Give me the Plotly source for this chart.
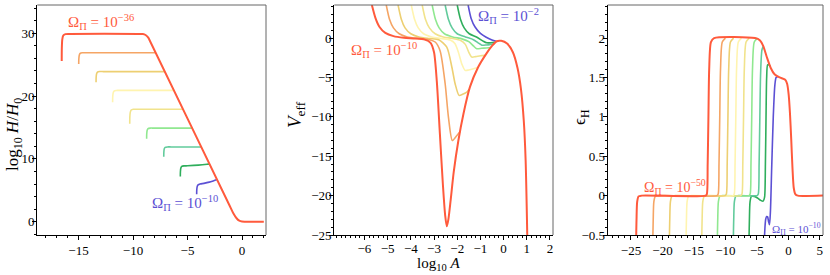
import plotly.graph_objects as go

W, H = 830, 275

# ---------------- colours (one per Omega_Pi value, red = smallest) ----------------
colors = ["#FF5A3C", "#F5A565", "#EDCF72", "#FFF4B0", "#F1E38C",
          "#90E890", "#62CB9C", "#2FAE5C", "#5C50D4"]

# ---------------- panel 1 : log10 H/H0 vs log10 A ----------------
p1_x1 = [-16.54, -16.53, -16.49, -16.4, -16.2, -15.8, -9.5, -9.1, -8.85, -8.6, -8.4, -1.2, -0.8, -0.5, -0.25, 0.0, 0.3, 2.0]
p1_y1 = [25.6, 27.6, 29.0, 29.65, 29.87, 29.9, 29.9, 29.88, 29.72, 29.3, 28.6, 2.78, 1.34, 0.55, 0.15, 0.02, 0.0, 0.0]
p1_x2 = [-14.98, -14.97, -14.93, -14.85, -14.65, -14.3, -8.2, -7.92]
p1_y2 = [25.1, 25.9, 26.5, 26.8, 26.9, 26.9, 26.9, 26.9]
p1_x3 = [-13.39, -13.38, -13.34, -13.26, -13.06, -12.7, -7.3, -7.08]
p1_y3 = [22.2, 23.0, 23.55, 23.8, 23.9, 23.9, 23.9, 23.9]
p1_x4 = [-11.87, -11.86, -11.82, -11.74, -11.54, -11.2, -6.5, -6.25]
p1_y4 = [19.0, 19.9, 20.5, 20.8, 20.9, 20.9, 20.9, 20.9]
p1_x5 = [-10.3, -10.29, -10.25, -10.17, -9.97, -9.6, -5.6, -5.41]
p1_y5 = [15.6, 16.7, 17.4, 17.78, 17.9, 17.9, 17.9, 17.9]
p1_x6 = [-8.75, -8.74, -8.7, -8.62, -8.42, -8.1, -4.8, -4.58]
p1_y6 = [13.2, 14.0, 14.55, 14.82, 14.9, 14.9, 14.9, 14.9]
p1_x7 = [-7.18, -7.17, -7.13, -7.05, -6.85, -6.5, -3.95, -3.74]
p1_y7 = [10.35, 11.1, 11.6, 11.83, 11.9, 11.9, 11.9, 11.9]
p1_x8 = [-5.66, -5.65, -5.61, -5.53, -5.33, -5.0, -4.0, -3.2, -2.99]
p1_y8 = [7.2, 8.0, 8.55, 8.8, 8.88, 8.9, 9.0, 9.15, 9.2]
p1_x9 = [-4.16, -4.15, -4.11, -4.03, -3.85, -3.5, -3.0, -2.55, -2.29]
p1_y9 = [4.35, 5.1, 5.6, 5.85, 6.0, 6.1, 6.3, 6.55, 6.7]

# ---------------- panel 2 : V_eff vs log10 A ----------------
p2_x1 = [-5.68, -5.52, -5.35, -5.1, -4.75, -4.3, -3.8, -3.4, -3.15, -3.0, -2.88, -2.75, -2.62, -2.52, -2.45,
         -2.38, -2.28, -2.15, -1.95, -1.73, -1.45, -1.1, -0.75, -0.5, -0.3, -0.1, 0.15, 0.4, 0.6, 0.75, 0.87, 0.95, 1.02]
p2_y1 = [4.2, 2.5, 1.4, 0.65, 0.25, 0.05, -0.05, -0.2, -0.6, -1.8, -5.5, -12.0, -18.5, -22.5, -23.9,
         -23.0, -20.5, -17.0, -13.0, -9.6, -6.2, -3.7, -2.0, -1.0, -0.4, -0.35, -0.7, -1.8, -3.8, -6.5, -10.5, -15.5, -25.0]
p2_x2 = [-5.06, -4.92, -4.75, -4.5, -4.15, -3.7, -3.2, -2.95, -2.74, -2.52, -2.38, -2.21, -2.05, -1.88]
p2_y2 = [4.2, 2.4, 1.3, 0.55, 0.15, -0.05, -0.2, -0.5, -1.6, -5.8, -10.0, -13.0, -12.5, -11.9]
p2_x3 = [-4.55, -4.41, -4.25, -4.0, -3.65, -3.2, -2.8, -2.45, -2.23, -2.09, -1.92, -1.75, -1.6, -1.48]
p2_y3 = [4.2, 2.4, 1.3, 0.55, 0.15, -0.05, -0.2, -1.15, -3.7, -5.8, -7.27, -7.1, -6.9, -6.5]
p2_x4 = [-3.98, -3.84, -3.68, -3.45, -3.1, -2.7, -2.3, -2.1, -1.95, -1.8, -1.66, -1.5, -1.3, -1.1]
p2_y4 = [4.2, 2.4, 1.3, 0.55, 0.15, -0.05, -0.25, -0.7, -1.8, -3.3, -4.1, -4.05, -3.9, -3.7]
p2_x5 = [-3.51, -3.37, -3.2, -2.95, -2.6, -2.2, -1.85, -1.65, -1.5, -1.37, -1.2, -1.0, -0.8]
p2_y5 = [4.2, 2.4, 1.3, 0.55, 0.15, -0.05, -0.3, -0.8, -1.8, -2.41, -2.35, -2.25, -2.2]
p2_x6 = [-3.08, -2.94, -2.78, -2.55, -2.2, -1.8, -1.5, -1.3, -1.16, -0.95, -0.75, -0.55]
p2_y6 = [4.2, 2.4, 1.3, 0.55, 0.15, -0.1, -0.45, -1.0, -1.35, -1.3, -1.25, -1.2]
p2_x7 = [-2.52, -2.38, -2.22, -2.0, -1.65, -1.3, -1.1, -0.94, -0.75, -0.55, -0.42]
p2_y7 = [4.2, 2.4, 1.3, 0.55, 0.15, -0.2, -0.6, -0.9, -0.88, -0.8, -0.72]
p2_x8 = [-2.0, -1.86, -1.7, -1.48, -1.15, -0.9, -0.73, -0.55, -0.38]
p2_y8 = [4.2, 2.4, 1.3, 0.55, 0.1, -0.35, -0.6, -0.6, -0.55]
p2_x9 = [-1.53, -1.4, -1.23, -1.0, -0.75, -0.5, -0.32]
p2_y9 = [4.2, 2.5, 1.4, 0.6, 0.1, -0.25, -0.4]

# ---------------- panel 3 : epsilon_H vs log10 A ----------------
p3_x1 = [-24.17, -24.12, -24.02, -23.8, -23.3, -13.15, -12.95, -12.82, -12.7, -12.58, -12.3, -11.8, -5.3, -4.5, -4.0,
         -3.43, -2.8, -2.2, -1.4, -0.5, -0.2, 0.05, 0.25, 0.45, 0.65, 0.85, 1.1, 1.5, 5.5]
p3_y1 = [-0.5, -0.3, -0.08, -0.01, 0.0, 0.0, 0.02, 0.4, 1.0, 1.6, 1.95, 2.0, 2.0, 1.97, 1.9,
         1.76, 1.62, 1.54, 1.5, 1.47, 1.42, 1.28, 1.05, 0.72, 0.35, 0.1, 0.02, 0.0, 0.0]
step_y = [-0.5, -0.3, -0.08, -0.01, 0.0, 0.0, 0.02, 0.4, 1.0, 1.6, 1.95, 2.0]
p3_x2 = [-21.52, -21.47, -21.37, -21.15, -20.65, -11.35, -11.15, -11.02, -10.9, -10.78, -10.5, -10.0]
p3_y2 = step_y
p3_x3 = [-18.89, -18.84, -18.74, -18.52, -18.02, -10.05, -9.85, -9.72, -9.6, -9.48, -9.2, -8.7]
p3_y3 = step_y
p3_x4 = [-16.24, -16.19, -16.09, -15.87, -15.37, -8.8, -8.6, -8.47, -8.35, -8.23, -7.95, -7.45]
p3_y4 = step_y
p3_x5 = [-13.75, -13.7, -13.6, -13.38, -12.88, -7.57, -7.37, -7.24, -7.12, -7.0, -6.72, -6.22]
p3_y5 = step_y
p3_x6 = [-11.27, -11.22, -11.12, -10.9, -10.4, -6.27, -6.07, -5.94, -5.82, -5.7, -5.42, -4.92]
p3_y6 = step_y
p3_x7 = [-8.73, -8.68, -8.58, -8.36, -7.86, -4.98, -4.78, -4.65, -4.53, -4.41, -4.2, -3.95]
p3_y7 = [-0.5, -0.3, -0.08, -0.01, 0.0, 0.0, 0.02, 0.4, 1.0, 1.55, 1.85, 1.9]
p3_x8 = [-6.24, -6.19, -6.09, -5.87, -5.4, -4.9, -4.4, -4.0, -3.78, -3.65, -3.55, -3.45, -3.3, -3.1, -2.9]
p3_y8 = [-0.5, -0.3, -0.08, -0.01, -0.01, -0.03, -0.06, -0.07, -0.02, 0.4, 1.0, 1.5, 1.66, 1.66, 1.64]
p3_x9 = [-3.78, -3.7, -3.6, -3.45, -3.3, -3.15, -3.0, -2.85, -2.65, -2.4, -2.15, -1.95, -1.7]
p3_y9 = [-0.5, -0.38, -0.3, -0.265, -0.27, -0.33, -0.37, -0.2, 0.35, 1.0, 1.4, 1.5, 1.51]

panel1 = [(p1_x1, p1_y1), (p1_x2, p1_y2), (p1_x3, p1_y3), (p1_x4, p1_y4), (p1_x5, p1_y5),
          (p1_x6, p1_y6), (p1_x7, p1_y7), (p1_x8, p1_y8), (p1_x9, p1_y9)]
panel2 = [(p2_x1, p2_y1), (p2_x2, p2_y2), (p2_x3, p2_y3), (p2_x4, p2_y4), (p2_x5, p2_y5),
          (p2_x6, p2_y6), (p2_x7, p2_y7), (p2_x8, p2_y8), (p2_x9, p2_y9)]
panel3 = [(p3_x1, p3_y1), (p3_x2, p3_y2), (p3_x3, p3_y3), (p3_x4, p3_y4), (p3_x5, p3_y5),
          (p3_x6, p3_y6), (p3_x7, p3_y7), (p3_x8, p3_y8), (p3_x9, p3_y9)]

FONT = "Liberation Serif, Times New Roman, DejaVu Serif, serif"

fig = go.Figure()

axes = [("x", "y"), ("x2", "y2"), ("x3", "y3")]
for (xa, ya), curves in zip(axes, [panel1, panel2, panel3]):
    for i in reversed(range(9)):
        cx, cy = curves[i]
        fig.add_trace(go.Scatter(x=cx, y=cy, mode="lines", xaxis=xa, yaxis=ya,
                                 line=dict(color=colors[i], width=2 if i == 0 else 1.6,
                                           shape="spline", smoothing=0.7),
                                 showlegend=False, hoverinfo="skip"))

# pixel frames of the three panels (left, right, top, bottom)
frames = [(37.3, 266.0, 5.0, 235.0), (334.3, 553.0, 5.0, 235.0), (607.7, 823.0, 5.0, 235.0)]
dom = [(l / W, r / W, (H - b) / H, (H - t) / H) for (l, r, t, b) in frames]

tickfont = dict(family=FONT, size=13, color="black")
common = dict(showgrid=False, zeroline=False, showline=True, linecolor="black", linewidth=1.2,
              ticks="outside", ticklen=4, tickwidth=1, tickcolor="black", tickfont=tickfont,
              automargin=False)
minor_style = dict(ticklen=2, tickcolor="black", ticks="outside")

fig.update_layout(
    width=W, height=H, margin=dict(l=0, r=0, t=0, b=0, pad=0, autoexpand=False),
    paper_bgcolor="white", plot_bgcolor="white", font=dict(family=FONT),
    xaxis=dict(domain=[dom[0][0], dom[0][1]], range=[-18.78, 2.2], anchor="y",
               tickvals=[-15, -10, -5, 0], minor=dict(dtick=1, **minor_style), ticklabelstandoff=-1, **common),
    yaxis=dict(domain=[dom[0][2], dom[0][3]], range=[-2.12, 34.5], anchor="x",
               tickvals=[0, 10, 20, 30], minor=dict(dtick=2, **minor_style), ticklabelstandoff=-5, **common),
    xaxis2=dict(domain=[dom[1][0], dom[1][1]], range=[-7.3, 2.13], anchor="y2",
                tickvals=[-6, -5, -4, -3, -2, -1, 0, 1, 2], minor=dict(dtick=0.2, **minor_style),
                ticklabelstandoff=-3, **common),
    yaxis2=dict(domain=[dom[1][2], dom[1][3]], range=[-25, 4.2], anchor="x2",
                tickvals=[0, -5, -10, -15, -20, -25], minor=dict(dtick=1, **minor_style),
                ticklabelstandoff=-5, **common),
    xaxis3=dict(domain=[dom[2][0], dom[2][1]], range=[-28.7, 5.5], anchor="y3",
                tickvals=[-25, -20, -15, -10, -5, 0, 5], minor=dict(dtick=1, **minor_style),
                ticklabelstandoff=-1, **common),
    yaxis3=dict(domain=[dom[2][2], dom[2][3]], range=[-0.5, 2.42], anchor="x3",
                tickvals=[-0.5, 0, 0.5, 1, 1.5, 2], minor=dict(dtick=0.1, **minor_style),
                ticklabelstandoff=-5, **common),
)

# top / right frame lines (grey)
shapes = []
for (l, r, b, t) in dom:
    shapes.append(dict(type="line", xref="paper", yref="paper", x0=l, x1=r, y0=t, y1=t,
                       line=dict(color="#666666", width=1)))
    shapes.append(dict(type="line", xref="paper", yref="paper", x0=r, x1=r, y0=b, y1=t,
                       line=dict(color="#666666", width=1)))
fig.update_layout(shapes=shapes)


def ann(px, py, text, size, color="black", angle=0):
    return dict(x=px / W, y=1 - py / H, xref="paper", yref="paper", text=text, showarrow=False,
                xanchor="center", yanchor="middle", textangle=angle,
                font=dict(family=FONT, size=size, color=color))


annotations = [
    ann(101, 22, "Ω<sub>Π</sub> = 10<sup>−36</sup>", 15, colors[0]),
    ann(185, 203, "Ω<sub>Π</sub> = 10<sup>−10</sup>", 15, colors[8]),
    ann(384, 50, "Ω<sub>Π</sub> = 10<sup>−10</sup>", 15, colors[0]),
    ann(508, 16, "Ω<sub>Π</sub> = 10<sup>−2</sup>", 15, colors[8]),
    ann(675, 187, "Ω<sub>Π</sub> = 10<sup>−50</sup>", 14, colors[0]),
    ann(796, 229, "Ω<sub>Π</sub> = 10<sup>−10</sup>", 11, colors[8]),
    ann(14, 135, "log<sub>10</sub> <i>H</i>/<i>H</i><sub>0</sub>", 17, angle=-90),
    ann(296, 115, "<i>V</i><sub>eff</sub>", 19, angle=-90),
    ann(581, 117, "ϵ<sub>H</sub>", 17, angle=-90),
    ann(438, 264, "log<sub>10</sub> <i>A</i>", 15),
]
fig.update_layout(annotations=annotations)

fig.write_html("out.html", config={"displayModeBar": False},
               post_script="document.body.style.margin='0';document.body.style.padding='0';")
